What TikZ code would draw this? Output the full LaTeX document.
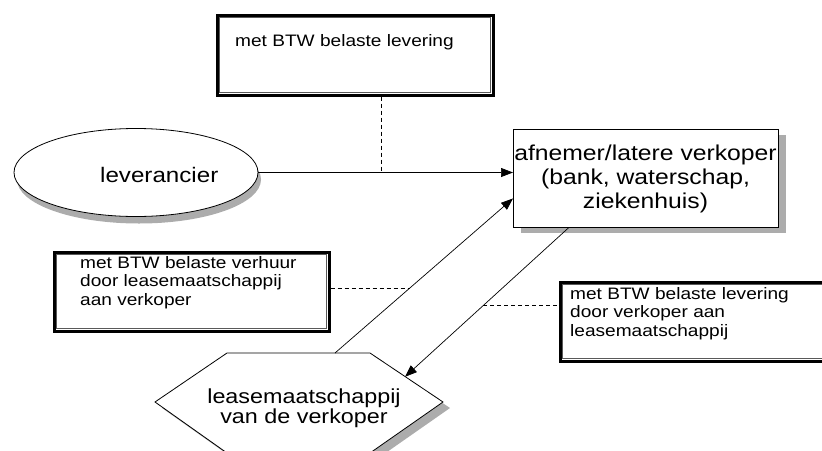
\documentclass[tikz,border=0pt]{standalone}
\usepackage{fontspec}
\setmainfont{Liberation Sans}[FakeStretch=1.15]
\usetikzlibrary{arrows.meta,shapes.geometric}
\newcommand\mylinesL[1]{\vtop{\lineskiplimit=-50pt\halign{##\hfil\cr#1\crcr}}}
\newcommand\mylinesC[1]{\vtop{\lineskiplimit=-50pt\halign{\hfil##\hfil\cr#1\crcr}}}
\definecolor{shadowgray}{RGB}{172,172,172}
\begin{document}
\begin{tikzpicture}[x=1pt,y=-1pt,
  conn/.style={line width=0.7pt, -{Triangle[length=12pt,width=9pt]}},
  dsh/.style={line width=0.7pt, dash pattern=on 4pt off 3pt},
  dblbox/.style={draw, line width=3pt, fill=white, rectangle, inner sep=0pt, anchor=north west},
  innerline/.style={line width=0.8pt, draw=black!65},
  smalltxt/.style={font=\fontsize{16.6}{18.5}\selectfont, anchor=base west, inner sep=0pt},
  bigtxt/.style={font=\fontsize{21.5}{24}\selectfont, anchor=base, inner sep=0pt},
  shadowc/.style={draw=none, fill=shadowgray},
]
\useasboundingbox (0,0) rectangle (822,450);

% hexagon (leasemaatschappij)
\coordinate (h1) at (227,353);
\coordinate (h2) at (370,353);
\coordinate (h3) at (443,402);
\coordinate (h4) at (370,453);
\coordinate (h5) at (227,453);
\coordinate (h6) at (155,402);
\fill[shadowc] (234,359) -- (377,359) -- (450,408) -- (377,459) -- (234,459) -- (162,408) -- cycle;
\draw[fill=white, line width=0.8pt] (h1) -- (h2) -- (h3) -- (h4) -- (h5) -- (h6) -- cycle;
\node[bigtxt, font=\fontsize{20.3}{20.5}\selectfont] (hextxt) at (304,403)
  {\mylinesC{leasemaatschappij\cr van de verkoper}};
\coordinate (hs) at (335,353);
\coordinate (hd) at (405,376.8);

% top box
\node[dblbox, minimum width=276pt, minimum height=80pt] (top) at (215.5,13.5) {};
\draw[innerline] ([shift={(3.8pt,-3.8pt)}]top.north west) rectangle ([shift={(-3.8pt,3.8pt)}]top.south east);
\node[smalltxt] (toptxt) at (235,46) {met BTW belaste levering};

% left box
\node[dblbox, minimum width=275pt, minimum height=79pt] (lbox) at (52.5,250.5) {};
\draw[innerline] ([shift={(3.8pt,-3.8pt)}]lbox.north west) rectangle ([shift={(-3.8pt,3.8pt)}]lbox.south east);
\node[smalltxt] (ltxt) at (80,268)
  {\mylinesL{met BTW belaste verhuur\cr door leasemaatschappij\cr aan verkoper}};

% right box
\node[dblbox, minimum width=300pt, minimum height=79pt] (rbox) at (558.5,280.5) {};
\draw[innerline] ([shift={(3.8pt,-3.8pt)}]rbox.north west) rectangle ([shift={(-3.8pt,3.8pt)}]rbox.south east);
\node[smalltxt] (rtxt) at (570,299)
  {\mylinesL{met BTW belaste levering\cr door verkoper aan\cr leasemaatschappij}};

% ellipse with shadow
\fill[shadowc] (139,179.5) ellipse [x radius=122pt, y radius=44pt];
\node[ellipse, draw, fill=white, line width=0.8pt, minimum width=244pt, minimum height=88pt,
  inner sep=0pt] (ell) at (136,172.5) {};
\node[bigtxt, font=\fontsize{21}{24}\selectfont, anchor=base west] (elltxt) at (100,182) {leverancier};

% afnemer box with shadow
\fill[shadowc] (521,135) rectangle (786,233);
\node[draw, fill=white, line width=0.9pt, rectangle, anchor=north west, inner sep=0pt,
  minimum width=265pt, minimum height=98pt] (af) at (513,129) {};
\node[bigtxt] (aftxt) at (645.5,160)
  {\mylinesC{afnemer/latere verkoper\cr (bank, waterschap,\cr ziekenhuis)}};

% connectors
\coordinate (j1) at (381,172.5);
\draw[conn] (ell.east) -- (ell.east -| af.west);
\draw[dsh] (top.south -| j1) -- (j1);
\draw[conn] (hs) -- ([yshift=-20pt]af.west);
\draw[conn] ([xshift=-77.5pt]af.south) -- (hd);
\coordinate (d1) at (409.6,288);
\draw[dsh] (lbox.east |- d1) -- (d1);
\coordinate (d2) at (483.2,305);
\draw[dsh] (d2) -- (rbox.west |- d2);
\end{tikzpicture}
\end{document}
